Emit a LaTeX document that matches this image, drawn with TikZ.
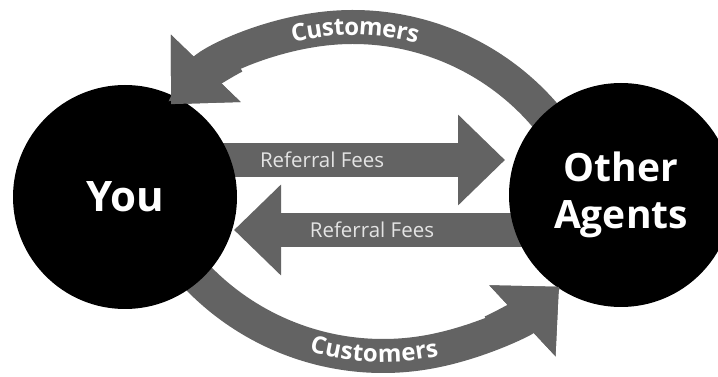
\documentclass[tikz,border=0pt]{standalone}
\usepackage{fontspec}
\setmainfont{Open Sans}
\usepackage{tikz}
\usetikzlibrary{arrows.meta,calc,decorations.text}
\definecolor{flowgray}{HTML}{636363}
\definecolor{feegray}{HTML}{E4E4E4}
\newcommand\custfont{\color{white}\bfseries\fontsize{24}{24}\selectfont}

\begin{document}
\begin{tikzpicture}[x=1pt,y=1pt,
	party/.style={circle,fill=black,minimum size=224pt,inner sep=0pt,text=white,align=center},
	fee/.style={line width=34pt,draw=flowgray,-{Triangle[length=47pt,width=88pt]}},
	cust/.style={line width=34pt,draw=flowgray,-{Triangle[length=50pt,width=94pt]}},
	feetext/.style={text=feegray,font=\fontsize{20.5}{20.5}\selectfont}]
	\useasboundingbox (0,0) rectangle (718,377);

	\coordinate (topc) at (353,97);
	\coordinate (botc) at (383,279);
	\coordinate (youc) at (125,180);
	\coordinate (agentsc) at (621,182);

	\draw[cust] ($(topc)+(35:253pt)$) arc[start angle=35,end angle=136,radius=253pt];
	\draw[cust] ($(botc)+(220:258pt)$) arc[start angle=220,end angle=313,radius=258pt];

	\draw[fee] ($(youc)+(62,37)$) -- ($(agentsc)+(-116,35)$) node[feetext,pos=0.425] (feeout) {Referral Fees};
	\draw[fee] ($(agentsc)+(-72,-35)$) -- ($(youc)+(109,-33)$) node[feetext,pos=0.562] (feein) {Referral Fees};

	\node[party,font=\fontsize{42}{42}\selectfont\bfseries] (you) at (youc) {You};
	\node[party,font=\fontsize{39}{47}\selectfont\bfseries] (agents) at (agentsc) {Other\\Agents};

	\draw[cust] ($(topc)+(118:253pt)$) arc[start angle=118,end angle=136,radius=253pt];
	\draw[cust] ($(botc)+(295:258pt)$) arc[start angle=295,end angle=313,radius=258pt];

	\path[decorate,decoration={text along path,text align=center,raise=-8pt,text={|\custfont|Customers}}] ($(topc)+(120:253pt)$) arc[start angle=120,end angle=59,radius=253pt];
	\path[decorate,decoration={text along path,text align=center,raise=-6pt,text={|\custfont|Customers}}] ($(botc)+(240:258pt)$) arc[start angle=240,end angle=296,radius=258pt];
\end{tikzpicture}
\end{document}
